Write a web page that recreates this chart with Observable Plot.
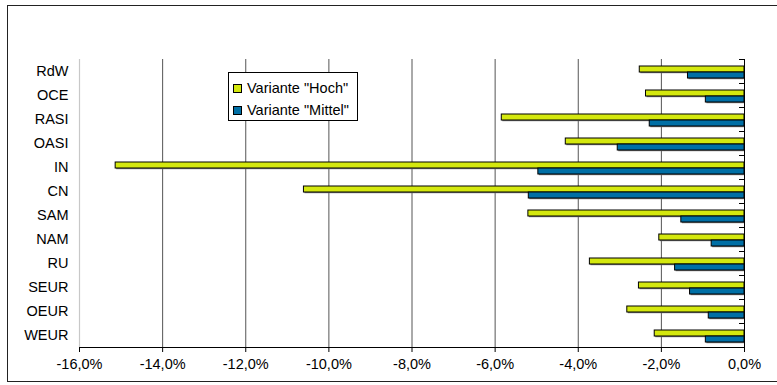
<!DOCTYPE html>
<html>
<head>
<meta charset="utf-8">
<script src="https://cdn.jsdelivr.net/npm/d3@7"></script>
<script src="https://cdn.jsdelivr.net/npm/@observablehq/plot@0.6"></script>
<style>
  html, body { margin: 0; padding: 0; background: #fff; }
  #wrap { position: relative; width: 777px; height: 385px; overflow: hidden; font-family: "Liberation Sans", Arial, sans-serif; }
  #frame { position: absolute; left: 7px; top: 5px; width: 790px; height: 375px; border: 1.5px solid #222; pointer-events: none; }
  #legend { position: absolute; left: 228px; top: 72px; width: 128px; height: 47px; border: 1px solid #000; background: #fff; font-size: 14.5px; color: #000; }
  .item { position: absolute; left: 4px; display: flex; align-items: center; white-space: nowrap; }
  .sw { width: 7px; height: 7px; border: 1px solid #000; margin-right: 5px; }
</style>
</head>
<body>
<div id="wrap">
  <div id="chart"></div>
  <div id="legend"></div>
  <div id="frame"></div>
</div>
<script>
const regions = ["RdW", "OCE", "RASI", "OASI", "IN", "CN", "SAM", "NAM", "RU", "SEUR", "OEUR", "WEUR"];
const hoch    = [-2.52, -2.37, -5.84, -4.30, -15.13, -10.60, -5.20, -2.05, -3.72, -2.54, -2.82, -2.16];
const mittel  = [-1.36, -0.93, -2.28, -3.05, -4.96, -5.19, -1.52, -0.79, -1.67, -1.31, -0.86, -0.93];
const seriesNames = ["Hoch", "Mittel"];
const seriesLabels = ['Variante "Hoch"', 'Variante "Mittel"'];
const seriesColors = ["#d4e80e", "#006fa5"];
const xTicks = [-16, -14, -12, -10, -8, -6, -4, -2, 0];

const rows = [];
regions.forEach((r, i) => {
  rows.push({region: r, series: "Hoch", value: hoch[i]});
  rows.push({region: r, series: "Mittel", value: mittel[i]});
});

const fmt = d => d.toFixed(1).replace("-0.0", "0.0").replace(".", ",") + "%";

const chart = Plot.plot({
  width: 777,
  height: 385,
  marginLeft: 79,
  marginRight: 33,
  marginTop: 57,
  marginBottom: 37,
  style: {fontFamily: "'Liberation Sans', Arial, sans-serif", fontSize: "14.5px", color: "#000", background: "transparent"},
  facet: {data: rows, y: "region"},
  fy: {domain: regions, padding: 0, label: null, axis: "left", tickSize: 0, tickPadding: 11},
  y: {domain: seriesNames, axis: null, paddingInner: 0, paddingOuter: 0.73, align: 0.6},
  x: {domain: [-16, 0], ticks: xTicks, tickFormat: fmt, tickSize: 5, tickPadding: 6, label: null, line: true},
  color: {domain: seriesNames, range: seriesColors},
  marks: [
    Plot.ruleX([-16], {stroke: "#c8c8c8", strokeWidth: 1.2}),
    Plot.ruleX(xTicks.filter(t => t > -16 && t < 0), {stroke: "#555", strokeWidth: 1}),
    Plot.barX(rows, {x: "value", y: "series", fill: "#7a7a7a", dx: 1, dy: 1.2}),
    Plot.barX(rows, {x: "value", y: "series", fill: "series", stroke: "#000", strokeWidth: 1}),
    Plot.ruleX([0], {stroke: "#000", strokeWidth: 1})
  ]
});
document.getElementById("chart").appendChild(chart);

// category boundary ticks on the zero axis, positioned via Plot's scales
const xs = chart.scale("x");
const fys = chart.scale("fy");
const x0 = xs.apply(0);
const svg = d3.select(chart);
const g = svg.append("g").attr("stroke", "#000").attr("stroke-width", 1);
const bounds = regions.map(r => fys.apply(r));
bounds.push(fys.apply(regions[regions.length - 1]) + fys.bandwidth);
bounds.forEach(y => {
  g.append("line").attr("x1", x0 - 5).attr("x2", x0).attr("y1", y + 0.5).attr("y2", y + 0.5);
});

// legend
const legend = document.getElementById("legend");
seriesNames.forEach((s, i) => {
  const it = document.createElement("div");
  it.className = "item";
  it.style.top = (i === 0 ? 7 : 29) + "px";
  const sw = document.createElement("div");
  sw.className = "sw";
  sw.style.background = seriesColors[i];
  const tx = document.createElement("span");
  tx.textContent = seriesLabels[i];
  it.appendChild(sw);
  it.appendChild(tx);
  legend.appendChild(it);
});
</script>
</body>
</html>
